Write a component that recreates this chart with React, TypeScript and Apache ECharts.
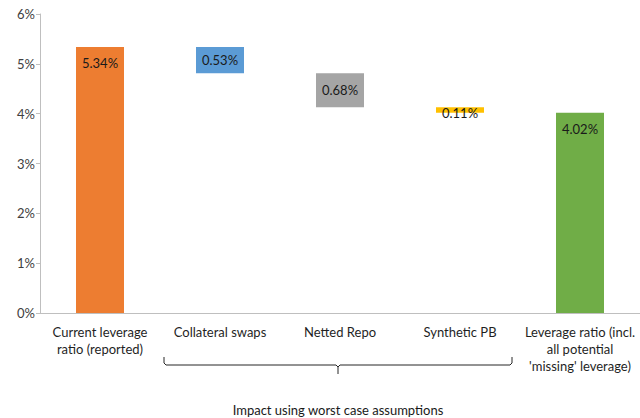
import React, { useEffect, useRef } from "react";
import * as echarts from "echarts";

// Waterfall steps from reported leverage to the fully-adjusted ratio
const categories = [
  "Current leverage\nratio (reported)",
  "Collateral swaps",
  "Netted Repo",
  "Synthetic PB",
  "Leverage ratio (incl.\nall potential\n'missing' leverage)",
];
const values = [5.34, 0.53, 0.68, 0.11, 4.02];
const isTotal = [true, false, false, false, true];
const barColors = ["#ED7D31", "#5B9BD5", "#A5A5A5", "#FFC000", "#70AD47"];
const yTicks = [0, 1, 2, 3, 4, 5, 6];
const bracketTitle = "Impact using worst case assumptions";

const FONT = "Lato, 'Open Sans', sans-serif";

export default function App() {
  const ref = useRef<HTMLDivElement>(null);

  useEffect(() => {
    if (!ref.current) return;
    const chart = echarts.init(ref.current, undefined, { renderer: "svg" });

    // invisible offsets so each reduction floats at the running total
    let running = 0;
    const bases: number[] = [];
    values.forEach((v, i) => {
      if (isTotal[i]) {
        bases.push(0);
        running = v;
      } else {
        running -= v;
        bases.push(running);
      }
    });

    const visible = values.map((v, i) => ({
      value: v,
      itemStyle: { color: barColors[i] },
      label: isTotal[i]
        ? { position: "insideTop", distance: 10 }
        : i === 3
        ? { position: "inside", offset: [0, 3] }
        : { position: "inside" },
    }));

    // bracket under the three adjustment categories
    const bx1 = 164;
    const bx2 = 512;
    const bMid = 338;
    const bTop = 357;
    const bY = 365;
    const bBot = 374;
    const bracketStyle = { stroke: "#262626", lineWidth: 1, fill: "none" };

    chart.setOption({
      animation: false,
      grid: { left: 40, right: 0, top: 14, bottom: 105, containLabel: false },
      xAxis: {
        type: "category",
        data: categories,
        axisLine: { lineStyle: { color: "#BFBFBF" } },
        axisTick: { alignWithLabel: false, length: 5, lineStyle: { color: "#BFBFBF" } },
        axisLabel: {
          interval: 0,
          color: "#1f1f1f",
          fontFamily: FONT,
          fontSize: 13,
          lineHeight: 17,
          margin: 10,
        },
      },
      yAxis: {
        type: "value",
        min: yTicks[0],
        max: yTicks[yTicks.length - 1],
        interval: 1,
        splitLine: { show: false },
        axisLine: { show: true, lineStyle: { color: "#BFBFBF" } },
        axisTick: { show: true, length: 4, lineStyle: { color: "#BFBFBF" } },
        axisLabel: {
          formatter: "{value}%",
          color: "#404040",
          fontFamily: FONT,
          fontSize: 13,
          margin: 5,
        },
      },
      series: [
        {
          type: "bar",
          stack: "wf",
          data: bases,
          itemStyle: { color: "transparent" },
          emphasis: { disabled: true },
          silent: true,
          barWidth: "40%",
        },
        {
          type: "bar",
          stack: "wf",
          data: visible,
          barWidth: "40%",
          label: {
            show: true,
            formatter: (p: any) => `${Number(p.value).toFixed(2)}%`,
            color: "#1a1a1a",
            fontFamily: FONT,
            fontSize: 13,
          },
        },
      ],
      graphic: [
        {
          type: "polyline",
          shape: {
            points: [
              [bx1, bTop],
              [bx1, bY - 2],
              [bx1 + 2, bY],
              [bMid - 2, bY],
              [bMid, bY + 2],
              [bMid, bBot],
            ],
          },
          style: bracketStyle,
        },
        {
          type: "polyline",
          shape: {
            points: [
              [bx2, bTop],
              [bx2, bY - 2],
              [bx2 - 2, bY],
              [bMid + 2, bY],
              [bMid, bY + 2],
            ],
          },
          style: bracketStyle,
        },
        {
          type: "text",
          x: bMid,
          y: 410,
          style: {
            text: bracketTitle,
            fill: "#1a1a1a",
            font: `13px ${FONT}`,
            align: "center",
            verticalAlign: "middle",
          },
        },
      ],
    });

    return () => chart.dispose();
  }, []);

  return (
    <div
      ref={ref}
      style={{ position: "fixed", left: 0, top: 0, width: 640, height: 418, background: "#fff" }}
    />
  );
}
